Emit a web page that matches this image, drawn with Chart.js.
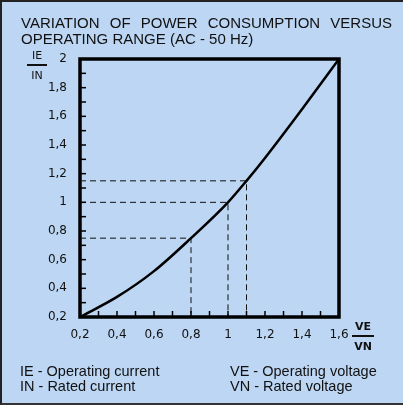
<!DOCTYPE html>
<html>
<head>
<meta charset="utf-8">
<script src="https://cdn.jsdelivr.net/npm/chart.js@4"></script>
<style>
  html, body { margin: 0; padding: 0; }
  #page {
    position: relative; width: 403px; height: 405px; box-sizing: border-box;
    background: #bcd6f3; border-left: 2px solid #222; border-top: 2px solid #222; border-bottom: 2px solid #333;
    font-family: "Liberation Sans", Arial, sans-serif; color: #111; overflow: hidden;
  }
  #chart { position: absolute; left: 0; top: 0; }
  .t { position: absolute; white-space: nowrap; }
  #title1 { left: 19px; top: 12px; width: 371px; font-size: 15px; text-align: justify; text-align-last: justify; }
  #title2 { left: 19px; top: 28px; font-size: 15px; }
  .frac { position: absolute; font-size: 11px; text-align: center; font-family: "DejaVu Sans", sans-serif; }
  .frac div.bar { border-top: 2px solid #111; margin: 2px 0 3px 0; }
  .foot { font-size: 14.5px; }
</style>
</head>
<body>
<div id="page">
  <canvas id="chart" width="401" height="401"></canvas>
  <div class="t" id="title1">VARIATION OF POWER CONSUMPTION VERSUS</div>
  <div class="t" id="title2">OPERATING RANGE (AC - 50 Hz)</div>
  <div class="frac" style="left:25px; top:47px; width:20px;"><div>IE</div><div class="bar"></div><div>IN</div></div>
  <div class="frac" style="left:350px; top:318px; width:22px; font-weight:bold;"><div>VE</div><div class="bar"></div><div>VN</div></div>
  <div class="t foot" style="left:18px; top:361px;">IE - Operating current</div>
  <div class="t foot" style="left:18px; top:376px;">IN - Rated current</div>
  <div class="t foot" style="left:228px; top:361px;">VE - Operating voltage</div>
  <div class="t foot" style="left:228px; top:376px;">VN - Rated voltage</div>
</div>
<script>
// curve: IE/IN against VE/VN
const voltageRatio = [0.2, 0.4, 0.6, 0.8, 1.0, 1.1, 1.2, 1.4, 1.6];
const currentRatio = [0.2, 0.34, 0.52, 0.75, 1.0, 1.15, 1.31, 1.65, 2.0];

// marked operating points (dashed guides)
const markVoltage = [0.8, 1.0, 1.1];
const markCurrent = [0.75, 1.0, 1.15];

const xTicks = [0.2, 0.4, 0.6, 0.8, 1.0, 1.2, 1.4, 1.6];
const yTicks = [0.2, 0.4, 0.6, 0.8, 1.0, 1.2, 1.4, 1.6, 1.8, 2.0];

const fmt = v => String(Math.round(v * 10) / 10).replace('.', ',');

const guides = markVoltage.map((v, i) => ({
  data: [{x: 0.2, y: markCurrent[i]}, {x: v, y: markCurrent[i]}, {x: v, y: 0.2}],
  borderColor: '#111', borderWidth: 1, borderDash: [6, 4], pointRadius: 0, tension: 0, fill: false
}));

const frameAndTicks = {
  id: 'frameAndTicks',
  afterDatasetsDraw(chart) {
    const ctx = chart.ctx, a = chart.chartArea;
    const xs = chart.scales.x, ys = chart.scales.y;
    ctx.save();
    ctx.strokeStyle = '#000';
    ctx.lineWidth = 1.5;
    for (let i = 3; i < 16; i++) {
      const px = xs.getPixelForValue(i / 10);
      ctx.beginPath(); ctx.moveTo(px, a.bottom); ctx.lineTo(px, a.bottom - 6); ctx.stroke();
    }
    for (let i = 3; i < 20; i++) {
      const py = ys.getPixelForValue(i / 10);
      ctx.beginPath(); ctx.moveTo(a.left, py); ctx.lineTo(a.left + 6, py); ctx.stroke();
    }
    ctx.lineWidth = 3.5;
    ctx.strokeRect(a.left, a.top, a.right - a.left, a.bottom - a.top);
    ctx.restore();
  }
};

new Chart(document.getElementById('chart'), {
  type: 'line',
  data: {
    datasets: [{
      data: voltageRatio.map((v, i) => ({x: v, y: currentRatio[i]})),
      borderColor: '#000', borderWidth: 2.5, pointRadius: 0,
      cubicInterpolationMode: 'monotone', fill: false
    }, ...guides]
  },
  options: {
    responsive: false,
    animation: false,
    layout: { padding: { left: 0, top: 57, right: 64, bottom: 0 } },
    plugins: { legend: { display: false }, tooltip: { enabled: false } },
    scales: {
      x: {
        type: 'linear', min: 0.2, max: 1.6,
        afterFit: s => { s.height = 86; },
        afterBuildTicks: s => { s.ticks = xTicks.map(v => ({value: v})); },
        grid: { display: false, drawTicks: false },
        border: { display: false },
        ticks: { padding: 11, color: '#111', font: { family: 'DejaVu Sans', size: 12 }, callback: fmt, maxRotation: 0 }
      },
      y: {
        type: 'linear', min: 0.2, max: 2.0,
        afterFit: s => { s.width = 78; },
        afterBuildTicks: s => { s.ticks = yTicks.map(v => ({value: v})); },
        grid: { display: false, drawTicks: false },
        border: { display: false },
        ticks: { padding: 13, color: '#111', font: { family: 'DejaVu Sans', size: 12 }, callback: fmt }
      }
    }
  },
  plugins: [frameAndTicks]
});
</script>
</body>
</html>
